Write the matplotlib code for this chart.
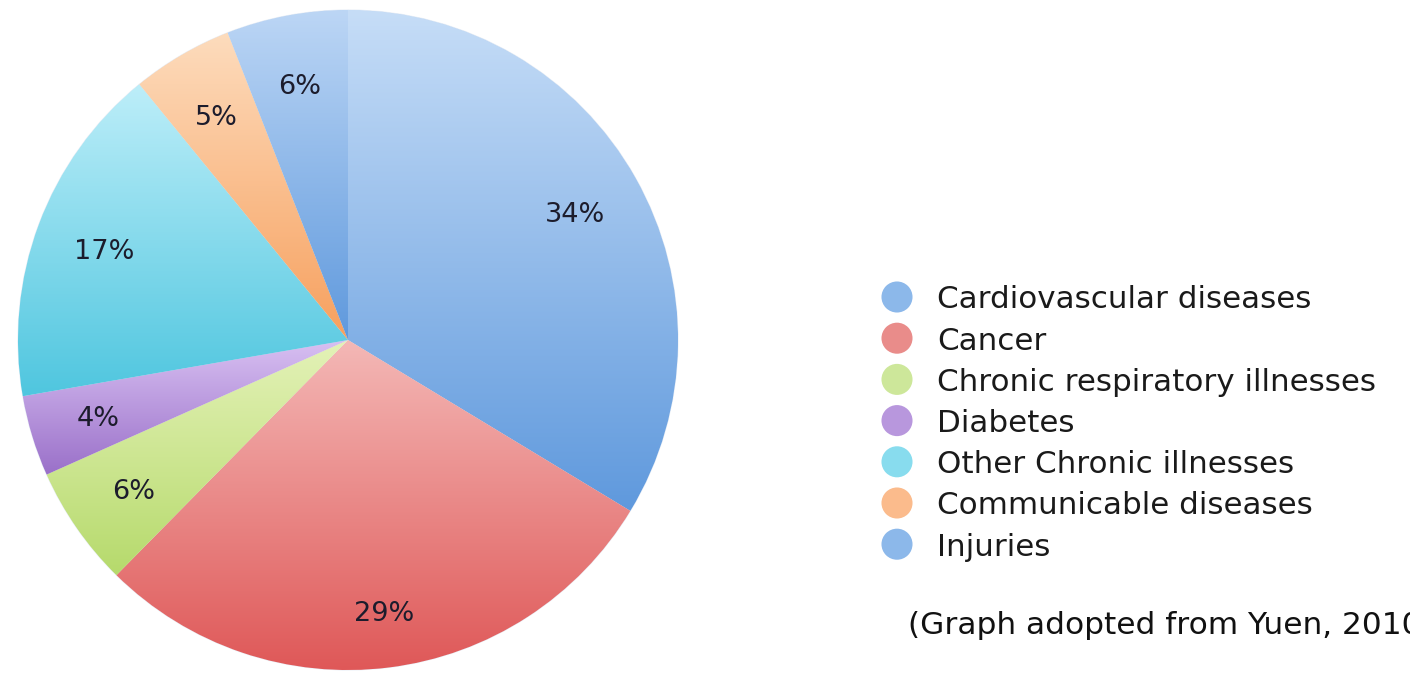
import numpy as np
import matplotlib.pyplot as plt
from matplotlib.colors import LinearSegmentedColormap

# Data
categories = ["Cardiovascular diseases", "Cancer", "Chronic respiratory illnesses",
              "Diabetes", "Other Chronic illnesses", "Communicable diseases", "Injuries"]
shares = [34, 29, 6, 4, 17, 5, 6]
pct_labels = ["34%", "29%", "6%", "4%", "17%", "5%", "6%"]

# light (top) / dark (bottom) shade of each slice
top_colors = ["#c6ddf7", "#f4b8b6", "#e4f2b8", "#d8c0f2", "#bdeef9", "#fddcbd", "#bcd6f5"]
bottom_colors = ["#5f99dd", "#df5858", "#b6da6c", "#9a70c9", "#4fc6df", "#f7a05e", "#5f99dd"]
mid_colors = ["#8cb8ea", "#e98c8a", "#cde79a", "#b897dd", "#88dcee", "#fbbb8c", "#8cb8ea"]

fig = plt.figure(figsize=(14.1, 6.73), dpi=100)
fig.patch.set_facecolor("white")

ax = fig.add_axes([18 / 1410, 3 / 673, 660 / 1410, 660 / 673])
wedges, texts = ax.pie(shares, labels=pct_labels, startangle=90, counterclock=False,
                       colors=mid_colors, labeldistance=0.79,
                       wedgeprops=dict(edgecolor="#e8eef6", linewidth=0.8),
                       textprops=dict(fontsize=19.5, color="#1c1c2c", ha="center",
                                      va="center_baseline"))

# gradient fill inside each wedge
for w, c0, c1 in zip(wedges, top_colors, bottom_colors):
    ext = w.get_path().get_extents()
    cmap = LinearSegmentedColormap.from_list("g", [c1, c0])
    grad = np.linspace(0, 1, 256).reshape(-1, 1)
    im = ax.imshow(grad, cmap=cmap, origin="lower", aspect="auto",
                   extent=(ext.x0, ext.x1, ext.y0, ext.y1), zorder=1.5,
                   interpolation="bilinear")
    im.set_clip_path(w)
for t in texts:
    t.set_zorder(3)
texts[1].set_position((0.11, -0.82))  # 29% sits a bit lower in the original

ax.set_xlim(-1.0, 1.0)
ax.set_ylim(-1.0, 1.0)
ax.set_aspect("equal")
ax.axis("off")

# legend
lax = fig.add_axes([0, 0, 1, 1])
lax.set_xlim(0, 1410)
lax.set_ylim(673, 0)
lax.axis("off")
for i, (name, col) in enumerate(zip(categories, mid_colors)):
    y = 297 + i * 41.2
    lax.scatter([897], [y], s=500, color=col, edgecolors="none")
    lax.text(937, y, name, fontsize=22.3, color="#1a1a1a", va="center_baseline", ha="left")

# caption runs off the right edge, as in the original
lax.text(908, 622, "(Graph adopted from Yuen, 2010)", fontsize=22.5, color="#111111",
         va="center_baseline", ha="left", clip_on=False)

plt.savefig("out.png", dpi=100)
plt.close()
